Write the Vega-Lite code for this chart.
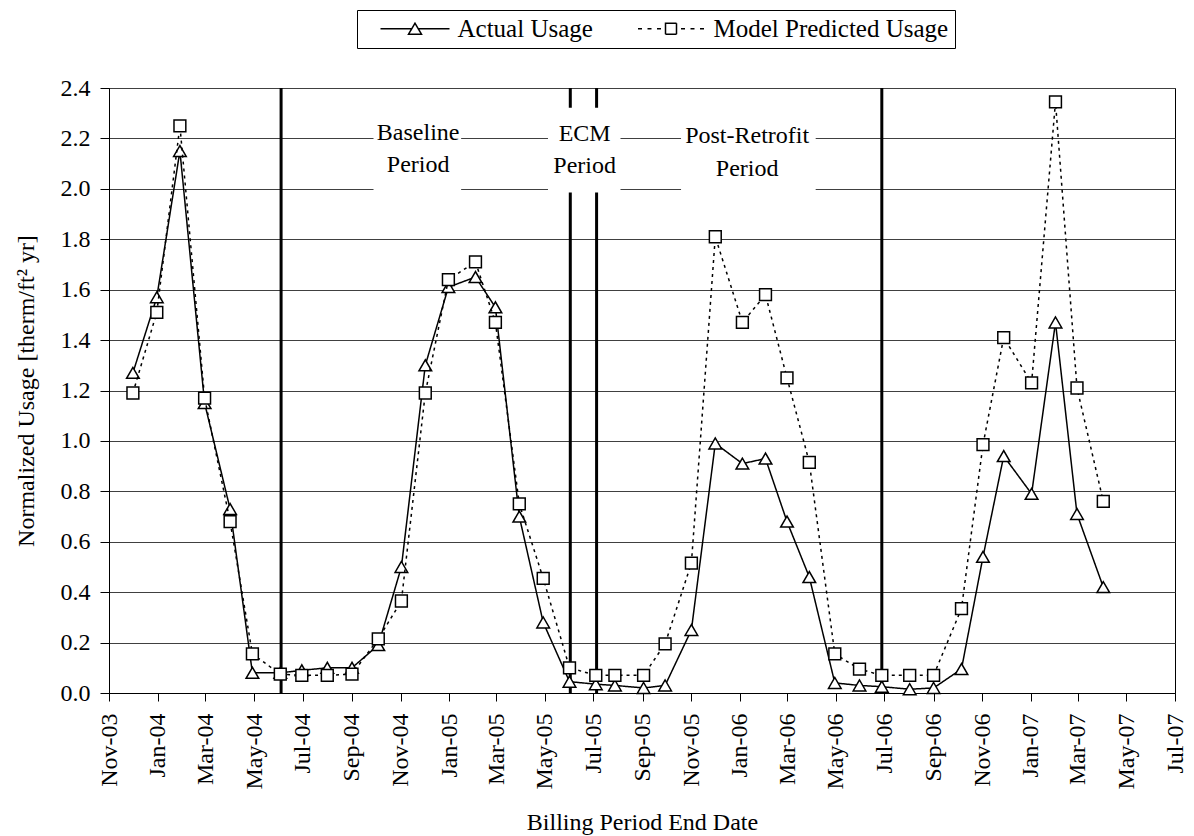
{
  "$schema": "https://vega.github.io/schema/vega-lite/v6.json",
  "width": 1066,
  "height": 605,
  "autosize": {"type": "none"},
  "padding": {"left": 109, "top": 88, "right": 19, "bottom": 143},
  "background": "white",
  "config": {
    "font": "Liberation Serif",
    "view": {"stroke": "black", "strokeWidth": 1},
    "axis": {
      "labelFont": "Liberation Serif", "titleFont": "Liberation Serif",
      "labelFontSize": 24, "titleFontSize": 24, "titleFontWeight": "normal",
      "labelColor": "black", "titleColor": "black", "domainColor": "black", "tickColor": "black"
    },
    "legend": {"labelFont": "Liberation Serif"}
  },
  "datasets": {
    "usage": [
      {"date": "2003/12/01", "series": "Actual Usage", "usage": 1.27},
      {"date": "2003/12/31", "series": "Actual Usage", "usage": 1.57},
      {"date": "2004/01/29", "series": "Actual Usage", "usage": 2.15},
      {"date": "2004/02/29", "series": "Actual Usage", "usage": 1.15},
      {"date": "2004/04/01", "series": "Actual Usage", "usage": 0.73},
      {"date": "2004/04/29", "series": "Actual Usage", "usage": 0.08},
      {"date": "2004/06/03", "series": "Actual Usage", "usage": 0.08},
      {"date": "2004/06/30", "series": "Actual Usage", "usage": 0.09},
      {"date": "2004/08/01", "series": "Actual Usage", "usage": 0.10},
      {"date": "2004/09/01", "series": "Actual Usage", "usage": 0.10},
      {"date": "2004/10/04", "series": "Actual Usage", "usage": 0.19},
      {"date": "2004/11/02", "series": "Actual Usage", "usage": 0.50},
      {"date": "2004/12/02", "series": "Actual Usage", "usage": 1.30},
      {"date": "2004/12/31", "series": "Actual Usage", "usage": 1.61},
      {"date": "2005/02/03", "series": "Actual Usage", "usage": 1.65},
      {"date": "2005/02/28", "series": "Actual Usage", "usage": 1.53},
      {"date": "2005/03/30", "series": "Actual Usage", "usage": 0.70},
      {"date": "2005/04/29", "series": "Actual Usage", "usage": 0.28},
      {"date": "2005/06/01", "series": "Actual Usage", "usage": 0.045},
      {"date": "2005/07/04", "series": "Actual Usage", "usage": 0.035},
      {"date": "2005/07/28", "series": "Actual Usage", "usage": 0.03},
      {"date": "2005/09/02", "series": "Actual Usage", "usage": 0.02},
      {"date": "2005/09/29", "series": "Actual Usage", "usage": 0.03},
      {"date": "2005/11/01", "series": "Actual Usage", "usage": 0.25},
      {"date": "2005/12/01", "series": "Actual Usage", "usage": 0.99},
      {"date": "2006/01/04", "series": "Actual Usage", "usage": 0.91},
      {"date": "2006/02/02", "series": "Actual Usage", "usage": 0.93},
      {"date": "2006/03/01", "series": "Actual Usage", "usage": 0.68},
      {"date": "2006/03/29", "series": "Actual Usage", "usage": 0.46},
      {"date": "2006/04/30", "series": "Actual Usage", "usage": 0.04},
      {"date": "2006/05/31", "series": "Actual Usage", "usage": 0.03},
      {"date": "2006/06/28", "series": "Actual Usage", "usage": 0.025},
      {"date": "2006/08/02", "series": "Actual Usage", "usage": 0.015},
      {"date": "2006/09/01", "series": "Actual Usage", "usage": 0.02},
      {"date": "2006/10/06", "series": "Actual Usage", "usage": 0.095},
      {"date": "2006/11/02", "series": "Actual Usage", "usage": 0.54},
      {"date": "2006/11/28", "series": "Actual Usage", "usage": 0.94},
      {"date": "2007/01/02", "series": "Actual Usage", "usage": 0.79},
      {"date": "2007/02/01", "series": "Actual Usage", "usage": 1.47},
      {"date": "2007/02/28", "series": "Actual Usage", "usage": 0.71},
      {"date": "2007/04/02", "series": "Actual Usage", "usage": 0.42},
      {"date": "2003/12/01", "series": "Model Predicted Usage", "usage": 1.19},
      {"date": "2003/12/31", "series": "Model Predicted Usage", "usage": 1.51},
      {"date": "2004/01/29", "series": "Model Predicted Usage", "usage": 2.25},
      {"date": "2004/02/29", "series": "Model Predicted Usage", "usage": 1.17},
      {"date": "2004/04/01", "series": "Model Predicted Usage", "usage": 0.68},
      {"date": "2004/04/29", "series": "Model Predicted Usage", "usage": 0.155},
      {"date": "2004/06/03", "series": "Model Predicted Usage", "usage": 0.075},
      {"date": "2004/06/30", "series": "Model Predicted Usage", "usage": 0.07},
      {"date": "2004/08/01", "series": "Model Predicted Usage", "usage": 0.07},
      {"date": "2004/09/01", "series": "Model Predicted Usage", "usage": 0.075},
      {"date": "2004/10/04", "series": "Model Predicted Usage", "usage": 0.215},
      {"date": "2004/11/02", "series": "Model Predicted Usage", "usage": 0.365},
      {"date": "2004/12/02", "series": "Model Predicted Usage", "usage": 1.19},
      {"date": "2004/12/31", "series": "Model Predicted Usage", "usage": 1.64},
      {"date": "2005/02/03", "series": "Model Predicted Usage", "usage": 1.71},
      {"date": "2005/02/28", "series": "Model Predicted Usage", "usage": 1.47},
      {"date": "2005/03/30", "series": "Model Predicted Usage", "usage": 0.75},
      {"date": "2005/04/29", "series": "Model Predicted Usage", "usage": 0.455},
      {"date": "2005/06/01", "series": "Model Predicted Usage", "usage": 0.10},
      {"date": "2005/07/04", "series": "Model Predicted Usage", "usage": 0.07},
      {"date": "2005/07/28", "series": "Model Predicted Usage", "usage": 0.07},
      {"date": "2005/09/02", "series": "Model Predicted Usage", "usage": 0.07},
      {"date": "2005/09/29", "series": "Model Predicted Usage", "usage": 0.195},
      {"date": "2005/11/01", "series": "Model Predicted Usage", "usage": 0.515},
      {"date": "2005/12/01", "series": "Model Predicted Usage", "usage": 1.81},
      {"date": "2006/01/04", "series": "Model Predicted Usage", "usage": 1.47},
      {"date": "2006/02/02", "series": "Model Predicted Usage", "usage": 1.58},
      {"date": "2006/03/01", "series": "Model Predicted Usage", "usage": 1.25},
      {"date": "2006/03/29", "series": "Model Predicted Usage", "usage": 0.915},
      {"date": "2006/04/30", "series": "Model Predicted Usage", "usage": 0.155},
      {"date": "2006/05/31", "series": "Model Predicted Usage", "usage": 0.095},
      {"date": "2006/06/28", "series": "Model Predicted Usage", "usage": 0.07},
      {"date": "2006/08/02", "series": "Model Predicted Usage", "usage": 0.07},
      {"date": "2006/09/01", "series": "Model Predicted Usage", "usage": 0.07},
      {"date": "2006/10/06", "series": "Model Predicted Usage", "usage": 0.335},
      {"date": "2006/11/02", "series": "Model Predicted Usage", "usage": 0.985},
      {"date": "2006/11/28", "series": "Model Predicted Usage", "usage": 1.41},
      {"date": "2007/01/02", "series": "Model Predicted Usage", "usage": 1.23},
      {"date": "2007/02/01", "series": "Model Predicted Usage", "usage": 2.345},
      {"date": "2007/02/28", "series": "Model Predicted Usage", "usage": 1.21},
      {"date": "2007/04/02", "series": "Model Predicted Usage", "usage": 0.76}
    ],
    "periods": [
      {"date": "2004/06/04"},
      {"date": "2005/06/02"},
      {"date": "2005/07/05"},
      {"date": "2006/06/28"}
    ],
    "notes": [
      {"label": "Baseline\nPeriod", "date": "2004/11/23", "usage": 2.194, "boxStart": "2004/09/28", "boxEnd": "2005/01/16", "boxLow": 1.985, "boxHigh": 2.322},
      {"label": "ECM\nPeriod", "date": "2005/06/20", "usage": 2.19, "boxStart": "2005/05/05", "boxEnd": "2005/08/04", "boxLow": 1.985, "boxHigh": 2.322},
      {"label": "Post-Retrofit\nPeriod", "date": "2006/01/10", "usage": 2.18, "boxStart": "2005/10/19", "boxEnd": "2006/04/06", "boxLow": 1.985, "boxHigh": 2.322}
    ]
  },
  "layer": [
    {
      "data": {"name": "periods"},
      "mark": {"type": "rule", "color": "black", "strokeWidth": 3},
      "encoding": {
        "x": {"field": "date", "type": "temporal", "title": "Billing Period End Date",
              "scale": {"domain": [{"year": 2003, "month": 11, "date": 1}, {"year": 2007, "month": 7, "date": 1}], "nice": false},
              "axis": {"format": "%b-%y", "tickCount": {"interval": "month", "step": 2}, "labelAngle": -90, "labelPadding": 12, "tickSize": 8, "grid": false, "titlePadding": 22, "labelOverlap": false, "labelFlush": false, "labelBound": false}}
      }
    },
    {
      "data": {"name": "usage"},
      "transform": [{"filter": "datum.series === 'Actual Usage'"}],
      "mark": {"type": "line", "color": "black", "strokeWidth": 1.5},
      "encoding": {
        "x": {"field": "date", "type": "temporal", "title": "Billing Period End Date",
              "scale": {"domain": [{"year": 2003, "month": 11, "date": 1}, {"year": 2007, "month": 7, "date": 1}], "nice": false},
              "axis": {"format": "%b-%y", "tickCount": {"interval": "month", "step": 2}, "labelAngle": -90, "labelPadding": 12, "tickSize": 8, "grid": false, "titlePadding": 22, "labelOverlap": false, "labelFlush": false, "labelBound": false}},
        "y": {"field": "usage", "type": "quantitative", "title": "Normalized Usage [therm/ft² yr]",
              "scale": {"domain": [0, 2.4], "nice": false},
              "axis": {"values": [0, 0.2, 0.4, 0.6, 0.8, 1.0, 1.2, 1.4, 1.6, 1.8, 2.0, 2.2, 2.4], "format": ".1f", "grid": true, "gridColor": "#404040", "gridWidth": 1, "tickSize": 9, "labelPadding": 10, "titlePadding": 22}},
        "strokeDash": {
          "field": "series", "type": "nominal",
          "scale": {"domain": ["Actual Usage", "Model Predicted Usage"], "range": [[1, 0], [1, 0]]},
          "legend": {
            "title": null, "orient": "none", "legendX": 248, "legendY": -78, "direction": "horizontal",
            "symbolSize": 400, "symbolOffset": 39.5, "labelOffset": 30, "columnPadding": 26, "labelLimit": 600,
            "labelFontSize": 25, "labelColor": "black", "strokeColor": "black", "padding": 6,
            "symbolStrokeWidth": 1.5, "symbolStrokeColor": "black", "symbolFillColor": "white",
            "encode": {
              "symbols": {
                "update": {
                  "shape": {"signal": "datum.value === 'Actual Usage' ? 'M-3.45,0H-0.33M0.33,0H3.45M0,-0.55L0.65,0.55L-0.65,0.55Z' : 'M-3.3,0H-2.9M-2.35,0H-1.95M-1.4,0H-1.0M1.0,0H1.4M1.95,0H2.35M2.9,0H3.3M-0.55,-0.55H0.55V0.55H-0.55Z'"},
                  "fill": {"value": "white"},
                  "stroke": {"value": "black"},
                  "strokeWidth": {"value": 1.5},
                  "opacity": {"value": 1}
                }
              }
            }
          }
        }
      }
    },
    {
      "data": {"name": "usage"},
      "transform": [{"filter": "datum.series === 'Actual Usage'"}],
      "mark": {"type": "point", "shape": "triangle-up", "filled": true, "fill": "white", "stroke": "black", "strokeWidth": 1.5, "opacity": 1, "size": 160},
      "encoding": {
        "x": {"field": "date", "type": "temporal", "title": "Billing Period End Date"},
        "y": {"field": "usage", "type": "quantitative", "title": "Normalized Usage [therm/ft² yr]"}
      }
    },
    {
      "data": {"name": "usage"},
      "transform": [{"filter": "datum.series === 'Model Predicted Usage'"}],
      "mark": {"type": "line", "color": "black", "strokeWidth": 1.5, "strokeDash": [3, 4]},
      "encoding": {
        "x": {"field": "date", "type": "temporal", "title": "Billing Period End Date"},
        "y": {"field": "usage", "type": "quantitative", "title": "Normalized Usage [therm/ft² yr]"}
      }
    },
    {
      "data": {"name": "usage"},
      "transform": [{"filter": "datum.series === 'Model Predicted Usage'"}],
      "mark": {"type": "point", "shape": "square", "filled": true, "fill": "white", "stroke": "black", "strokeWidth": 1.5, "opacity": 1, "size": 140},
      "encoding": {
        "x": {"field": "date", "type": "temporal", "title": "Billing Period End Date"},
        "y": {"field": "usage", "type": "quantitative", "title": "Normalized Usage [therm/ft² yr]"}
      }
    },
    {
      "data": {"name": "notes"},
      "mark": {"type": "rect", "fill": "white", "stroke": null},
      "encoding": {
        "x": {"field": "boxStart", "type": "temporal", "title": "Billing Period End Date"},
        "x2": {"field": "boxEnd"},
        "y": {"field": "boxLow", "type": "quantitative", "title": "Normalized Usage [therm/ft² yr]"},
        "y2": {"field": "boxHigh"}
      }
    },
    {
      "data": {"name": "notes"},
      "mark": {"type": "text", "align": "center", "baseline": "alphabetic", "fontSize": 24, "lineBreak": "\n", "lineHeight": 32.5, "color": "black", "font": "Liberation Serif"},
      "encoding": {
        "x": {"field": "date", "type": "temporal", "title": "Billing Period End Date"},
        "y": {"field": "usage", "type": "quantitative", "title": "Normalized Usage [therm/ft² yr]"},
        "text": {"field": "label"}
      }
    }
  ]
}
